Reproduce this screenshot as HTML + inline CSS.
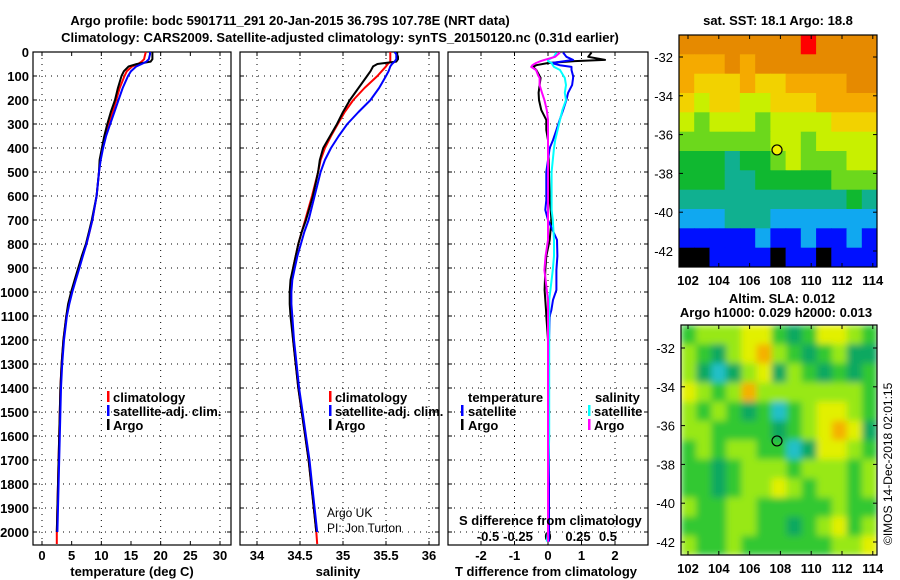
<!DOCTYPE html>
<html><head><meta charset="utf-8"><style>
body{margin:0;background:#fff;}
svg{display:block;font-family:"Liberation Sans",sans-serif;}
.t{font-weight:bold;font-size:13px;fill:#000;}
</style></head><body>
<svg id="c" width="900" height="580" viewBox="0 0 900 580" xmlns="http://www.w3.org/2000/svg">
<defs>
<clipPath id="cp1"><rect x="33" y="52" width="198" height="493"/></clipPath>
<clipPath id="cp2"><rect x="240" y="52" width="199" height="493"/></clipPath>
<clipPath id="cp3"><rect x="448" y="52" width="200" height="493"/></clipPath>
<clipPath id="cm1"><rect x="679" y="35" width="198" height="232"/></clipPath>
<clipPath id="cm2"><rect x="681" y="325" width="196" height="230"/></clipPath>
<filter id="bl" x="0" y="0" width="1" height="1"><feGaussianBlur stdDeviation="3.5"/></filter>
</defs>
<text class="t" x="290" y="25" text-anchor="middle">Argo profile: bodc 5901711_291 20-Jan-2015 36.79S 107.78E (NRT data)</text>
<text class="t" x="340" y="42" text-anchor="middle">Climatology: CARS2009. Satellite-adjusted climatology: synTS_20150120.nc (0.31d earlier)</text>
<text class="t" x="778" y="25" text-anchor="middle">sat. SST: 18.1 Argo: 18.8</text>
<text class="t" x="782" y="303" text-anchor="middle">Altim. SLA: 0.012</text>
<text class="t" x="776" y="317" text-anchor="middle">Argo h1000: 0.029 h2000: 0.013</text>
<text x="892" y="545" font-size="12" transform="rotate(-90 892 545)">©IMOS 14-Dec-2018 02:01:15</text>
<g id="g"></g>
</svg>
<script>
// ---- profile data ----
const depths=[0,10,20,30,40,50,60,80,100,150,200,250,300,350,400,450,500,600,700,750,800,850,900,950,1000,1050,1100,1200,1300,1400,1500,1600,1700,1800,1900,2000,2050];
const tempArgo=[18.6,18.6,18.6,18.6,18.3,16,14.6,13.8,13.4,12.8,12.3,11.6,11,10.5,10.1,9.7,9.6,9.2,8.4,7.9,7.4,6.7,6.1,5.5,4.9,4.4,4.1,3.6,3.3,3.1,3.0,2.9,2.8,2.7,2.6,2.5,2.5];
const tempClim=[17.5,17.4,17.3,17.2,16.8,16.2,15.2,14.3,13.9,13.1,12.5,11.9,11.2,10.6,10.2,9.8,9.6,9.2,8.5,8.0,7.5,6.8,6.2,5.6,5.0,4.5,4.1,3.6,3.3,3.1,3.0,2.9,2.8,2.7,2.6,2.5,2.5];
const tempSat=[18.2,18.2,18.1,18.0,17.6,16.8,15.9,15.0,14.5,13.6,12.9,12.2,11.5,10.8,10.3,9.9,9.6,9.2,8.5,8.0,7.5,6.9,6.3,5.7,5.1,4.6,4.2,3.7,3.4,3.2,3.1,3.0,2.9,2.8,2.7,2.6,2.6];
const salArgo=[35.63,35.63,35.64,35.64,35.62,35.4,35.35,35.32,35.28,35.18,35.08,35.0,34.93,34.85,34.77,34.73,34.71,34.65,34.57,34.52,34.48,34.45,34.42,34.39,34.38,34.38,34.39,34.42,34.45,34.48,34.52,34.56,34.6,34.63,34.66,34.69,34.7];
const salClim=[35.55,35.55,35.55,35.55,35.55,35.52,35.5,35.45,35.4,35.25,35.12,35.02,34.94,34.86,34.79,34.74,34.71,34.64,34.56,34.52,34.48,34.45,34.42,34.40,34.39,34.39,34.4,34.42,34.45,34.48,34.52,34.56,34.6,34.63,34.66,34.69,34.7];
const salSat=[35.6,35.62,35.62,35.62,35.6,35.57,35.55,35.53,35.5,35.42,35.32,35.18,35.05,34.95,34.86,34.79,34.74,34.67,34.6,34.55,34.51,34.47,34.44,34.41,34.4,34.4,34.41,34.43,34.46,34.49,34.53,34.57,34.61,34.64,34.67,34.7,34.7];
// ---- difference data ----
const dDepths=[2,20,33,38,46,55,62,75,100,108,138,170,200,242,283,325,367,400,450,500,550,617,658,700,783,850,908,992,1033,1075,1100,1200,1400,1600,1800,2000,2040];
const tDiffArgo=[1.3,1.2,1.7,0.8,0.0,-0.35,-0.45,-0.35,-0.25,-0.22,-0.25,-0.28,-0.27,-0.2,-0.05,-0.05,0,0,0.02,0.03,0.04,0.05,0.08,0.1,0.05,-0.05,-0.08,-0.1,-0.08,-0.06,-0.05,0,0,0,0,0,-0.02];
const tDiffSat=[0.45,0.55,0.75,0.5,0.1,0.35,0.7,0.7,0.75,0.75,0.72,0.6,0.55,0.45,0.35,0.25,0.15,0.05,0.0,-0.05,-0.05,-0.05,-0.08,0.0,0.27,0.28,0.25,0.25,0.15,0.1,0.05,0.03,0.03,0.03,0.03,0.03,0.03];
const sDiffSat=[0.07,0.05,0.0,0.0,0.03,0.04,0.05,0.1,0.13,0.14,0.15,0.14,0.15,0.12,0.1,0.08,0.06,0.05,0.04,0.03,0.03,0.03,0.03,0.04,0.05,0.05,0.04,0.02,0.01,0.01,0.01,0.01,0.01,0.01,0.0,0.0,-0.01];
const sDiffArgo=[0.1,0.06,-0.03,-0.06,-0.1,-0.13,-0.14,-0.1,-0.08,-0.07,-0.07,-0.05,-0.03,-0.01,0,0,0,0,0,0,0,0,0,0,0,-0.02,-0.03,-0.01,0,0,0,0,0,0,0,0,0];
const depthTicks=[0,100,200,300,400,500,600,700,800,900,1000,1100,1200,1300,1400,1500,1600,1700,1800,1900,2000];
const tempTicks=[0,5,10,15,20,25,30];
const salTicks=[34,34.5,35,35.5,36];
const tdTicks=[-2,-1,0,1,2];
const sdTicks=[-0.5,-0.25,0,0.25,0.5];
// ---- map data ----
const sstLevels=[
[7,7,7,7,7,7,7,7,8,7,7,7,7],
[6,6,6,7,6,7,7,7,7,7,7,7,7],
[6,5,5,5,6,5,5,6,6,6,6,7,7],
[5,4,5,5,4,4,5,5,5,6,6,6,6],
[4,3,4,4,4,3,4,4,4,4,5,5,5],
[3,3,3,3,3,3,4,4,3,4,4,4,4],
[2,2,2,1,2,2,3,4,3,3,3,4,4],
[2,2,2,1,1,2,2,2,2,2,3,3,3],
[1,1,1,1,1,1,1,1,1,1,1,2,1],
[0,0,0,1,1,1,0,0,0,0,0,0,0],
[-1,-1,-1,-1,-1,0,-1,-1,0,-1,-1,0,-1],
[-2,-2,-1,-1,-1,-1,-2,-1,-1,-2,-1,-1,-1]];
const slaLevels=[
[0,1,1,1,2,2,0,-1,0,2,2,1,0],
[1,0,-1,1,2,3,1,0,-1,0,1,-1,-1],
[1,-1,-2,-1,1,2,-1,1,0,-1,0,-1,0],
[2,1,0,1,3,1,1,1,1,1,1,1,0],
[1,0,1,0,-1,0,-2,0,1,2,2,1,0],
[1,1,0,0,0,0,-1,0,1,2,3,2,-1],
[0,1,0,1,1,0,0,-2,-1,2,2,1,0],
[0,0,-1,0,1,1,1,0,1,1,1,0,1],
[0,0,-1,0,1,1,2,1,0,1,1,0,1],
[1,0,0,1,1,0,0,0,0,0,1,0,0],
[0,0,0,1,1,0,0,-1,0,1,2,0,1],
[1,0,0,1,0,0,0,0,0,0,1,1,2]];
const lonTicks=[102,104,106,108,110,112,114];
const latTicks=[-32,-34,-36,-38,-40,-42];
const argoPos=[107.78,-36.79];

const NS='http://www.w3.org/2000/svg';
const G=document.getElementById('g');
function mk(tag,at,parent){const e=document.createElementNS(NS,tag);for(const k in at)e.setAttribute(k,at[k]);(parent||G).appendChild(e);return e;}
const yD=d=>52+d*0.24;
const xT=v=>42+v*(178/30);
const xS=v=>257+(v-34)*86;
const xTD=v=>548+v*33.5;
const xSD=v=>548+v*120;

function panel(x0,x1,name,gridVals,gridF,ticks,tickF,labels){
  const p=mk('g',{});
  
  
  depthTicks.forEach(d=>{ if(d>0){const l=mk('line',{x1:x0,x2:x1,y1:yD(d),y2:yD(d),stroke:'#000','stroke-dasharray':'1 5','stroke-width':1},p);}
    mk('line',{x1:x0,x2:x0+4,y1:yD(d),y2:yD(d),stroke:'#000'},p);mk('line',{x1:x1-4,x2:x1,y1:yD(d),y2:yD(d),stroke:'#000'},p);});
  gridVals.forEach(v=>{const l=mk('line',{x1:gridF(v),x2:gridF(v),y1:52,y2:545,stroke:'#000','stroke-dasharray':'1 5'},p);});
  ticks.forEach(v=>{mk('line',{x1:tickF(v),x2:tickF(v),y1:545,y2:541,stroke:'#000'},p);mk('line',{x1:tickF(v),x2:tickF(v),y1:52,y2:56,stroke:'#000'},p);
    if(labels){const t=mk('text',{x:tickF(v),y:560,'text-anchor':'middle',class:'t'},p);t.textContent=String(v);}});
  const r=mk('rect',{x:x0,y:52,width:x1-x0,height:493,fill:'none',stroke:'#000','stroke-width':1.2},p);
  
  return p;
}
function line(xs,ds,xf,color,clip,name,w){
  const pts=xs.map((v,i)=>xf(v).toFixed(1)+','+yD(ds[i]).toFixed(1)).join(' ');
  const l=mk('polyline',{points:pts,fill:'none',stroke:color,'stroke-width':w||2,'clip-path':'url(#'+clip+')','stroke-linejoin':'round'});
  
  
}
function txt(x,y,s,name,extra){const t=mk('text',Object.assign({x:x,y:y,class:'t'},extra||{}));t.textContent=s;return t;}
function mark(x,y,c,name){const r=mk('rect',{x:x,y:y-10,width:2.5,height:11,fill:c});}

panel(33,231,'temperature-panel',[0,10,20,30],xT,tempTicks,xT,true);
depthTicks.forEach(d=>{txt(29,yD(d)+5,String(d),'y-tick-label',{'text-anchor':'end'});});
panel(240,439,'salinity-panel',salTicks,xS,salTicks,xS,true);
panel(448,648,'difference-panel',tdTicks,xTD,tdTicks,xTD,true);
sdTicks.forEach(v=>txt(xSD(v),541,String(v),'s-diff-tick-label',{'text-anchor':'middle'}));

line(tempClim,depths,xT,'#ff0000','cp1','temp-climatology-line');
line(tempArgo,depths.slice(0,36),xT,'#000000','cp1','temp-argo-line');
line(tempSat,depths.slice(0,36),xT,'#0000ff','cp1','temp-satellite-line');
line(salClim,depths,xS,'#ff0000','cp2','sal-climatology-line');
line(salArgo,depths.slice(0,36),xS,'#000000','cp2','sal-argo-line');
line(salSat,depths.slice(0,36),xS,'#0000ff','cp2','sal-satellite-line');
line(tDiffArgo,dDepths,xTD,'#000000','cp3','t-diff-argo-line');
line(tDiffSat,dDepths,xTD,'#0000ff','cp3','t-diff-satellite-line');
line(sDiffSat,dDepths,xSD,'#00ffff','cp3','s-diff-satellite-line');
line(sDiffArgo,dDepths,xSD,'#ff00ff','cp3','s-diff-argo-line');

mark(107,401,'#ff0000','legend-climatology-mark');txt(113,402,'climatology','legend-climatology');
mark(107,415,'#0000ff','legend-satellite-mark');txt(113,416,'satellite-adj. clim.','legend-satellite');
mark(107,429,'#000','legend-argo-mark');txt(113,430,'Argo','legend-argo');
mark(329,401,'#ff0000','legend-climatology-mark');txt(335,402,'climatology','legend-climatology');
mark(329,415,'#0000ff','legend-satellite-mark');txt(335,416,'satellite-adj. clim.','legend-satellite');
mark(329,429,'#000','legend-argo-mark');txt(335,430,'Argo','legend-argo');
txt(468,402,'temperature','legend-temperature-heading');txt(595,402,'salinity','legend-salinity-heading');
mark(461,415,'#0000ff','legend-t-satellite-mark');txt(468,416,'satellite','legend-t-satellite');
mark(461,429,'#000','legend-t-argo-mark');txt(468,430,'Argo','legend-t-argo');
mark(588,415,'#00ffff','legend-s-satellite-mark');txt(594,416,'satellite','legend-s-satellite');
mark(588,429,'#ff00ff','legend-s-argo-mark');txt(594,430,'Argo','legend-s-argo');
txt(327,517,'Argo UK','credit-argo-uk',{style:'font-weight:normal;font-size:12px'});
txt(327,532,'PI: Jon Turton','credit-pi',{style:'font-weight:normal;font-size:12px'});
txt(459,525,'S difference from climatology','s-diff-axis-title');
txt(132,576,'temperature (deg C)','x-axis-title-temperature',{'text-anchor':'middle'});
txt(338,576,'salinity','x-axis-title-salinity',{'text-anchor':'middle'});
txt(546,576,'T difference from climatology','x-axis-title-t-diff',{'text-anchor':'middle'});

const sstColors={'8':'#ff0000','7':'#e68a00','6':'#f5aa00','5':'#f2d200','4':'#c8f000','3':'#6cd81c','2':'#10b830','1':'#10b090','0':'#10a8f0','-1':'#0010ff','-2':'#000000'};
const slaColors={'3':'#f5b000','2':'#e2f000','1':'#98e818','0':'#30c830','-1':'#10a860','-2':'#20c0c8'};
function map(x0,y0,w,h,levels,colors,clip,name,blur,latY,lonX){
  const g=mk('g',{'clip-path':'url(#'+clip+')'});
  
  
  const inner=mk('g',blur?{filter:'url(#bl)'}:{},g);
  const nr=levels.length,nc=levels[0].length,cw=w/nc,ch=h/nr;
  mk('rect',{x:x0,y:y0,width:w,height:h,fill:colors['0']},inner);
  levels.forEach((row,i)=>row.forEach((v,j)=>{
    const c=mk('rect',{x:(x0+j*cw).toFixed(1),y:(y0+i*ch).toFixed(1),width:(cw+0.6).toFixed(1),height:(ch+0.6).toFixed(1),fill:colors[String(v)]},inner);
    
    
  }));
  const f=mk('rect',{x:x0,y:y0,width:w,height:h,fill:'none',stroke:'#000','stroke-width':1.2});
  
  latTicks.forEach(v=>{const y=latY(v);mk('line',{x1:x0+w,x2:x0+w-4,y1:y,y2:y,stroke:'#000'});mk('line',{x1:x0,x2:x0+4,y1:y,y2:y,stroke:'#000'});
    txt(x0-6,y+5,String(v),'lat-tick-label',{'text-anchor':'end',style:'font-weight:normal;font-size:13px'});});
  lonTicks.forEach(v=>{const x=lonX(v);mk('line',{x1:x,x2:x,y1:y0+h,y2:y0+h-4,stroke:'#000'});mk('line',{x1:x,x2:x,y1:y0,y2:y0+4,stroke:'#000'});
    txt(x,y0+h+18,String(v),'lon-tick-label',{'text-anchor':'middle'});});
  const m=mk('circle',{cx:lonX(argoPos[0]),cy:latY(argoPos[1]),r:5,fill:blur?'none':'#f0f000',stroke:'#000','stroke-width':1.2});
  
}
const lonX1=v=>688+(v-102)*15.4, latY1=v=>57+(-32-v)*19.4;
const lonX2=v=>688+(v-102)*15.4, latY2=v=>348+(-32-v)*19.4;
map(679,35,198,232,sstLevels,sstColors,'cm1','sst-map',false,latY1,lonX1);
map(681,325,196,230,slaLevels,slaColors,'cm2','sla-map',true,latY2,lonX2);
</script>
</body></html>
